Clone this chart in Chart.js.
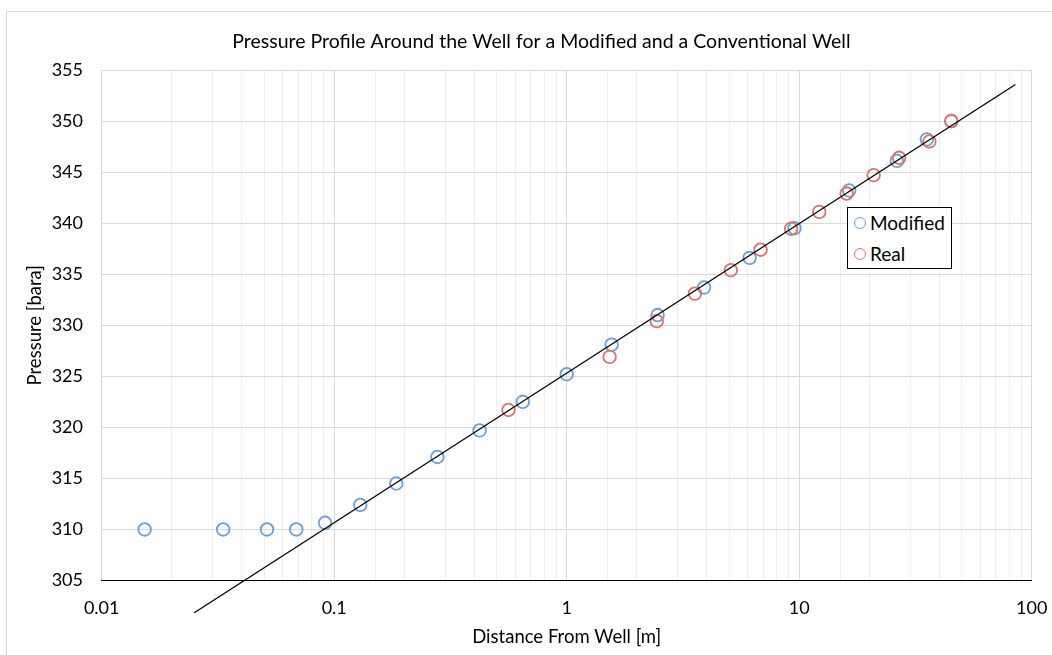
<!DOCTYPE html>
<html>
<head>
<meta charset="utf-8">
<script src="https://cdn.jsdelivr.net/npm/chart.js@4.4.1/dist/chart.umd.min.js"></script>
<style>
  html, body { margin: 0; padding: 0; background: #fff; overflow: hidden; }
  #wrap { position: relative; width: 1052px; height: 655px; }
  #legend {
    position: absolute; left: 847px; top: 207px; width: 103px; height: 60px;
    border: 1.3px solid #000; background: #fff;
    font-family: Lato, sans-serif; font-size: 19px; color: #000;
  }
  #legend .item { position: absolute; left: 6px; display: flex; align-items: center; }
  #legend .dot { width: 10px; height: 10px; border-radius: 50%; border: 1.5px solid; margin-right: 4px; }
</style>
</head>
<body>
<div id="wrap">
  <canvas id="chart" width="1052" height="655"></canvas>
  <div id="legend"></div>
</div>
<script>
// data
const modifiedX = [0.0153, 0.0333, 0.0514, 0.0687, 0.0914, 0.1295, 0.185, 0.278, 0.422, 0.647, 1.0, 1.56, 2.46, 3.9, 6.12, 9.55, 16.4, 26.3, 35.4, 45.1];
const modifiedY = [310, 310, 310, 310, 310.65, 312.4, 314.5, 317.1, 319.7, 322.5, 325.2, 328.1, 331.0, 333.7, 336.6, 339.5, 343.2, 346.1, 348.2, 350.0];

const realX = [0.562, 1.53, 2.44, 3.56, 5.08, 6.82, 9.23, 12.2, 16.0, 20.9, 26.9, 36.3, 45.1];
const realY = [321.7, 326.9, 330.4, 333.1, 335.4, 337.4, 339.45, 341.1, 342.9, 344.7, 346.4, 348.0, 350.0];

// log trendline end points
const trendX = [0.025, 85.1];
const trendY = [301.84, 353.58];

const xTicks = [0.01, 0.1, 1, 10, 100];

const blue = '#6b9fd8';
const red = '#d8736e';

const toPoints = (xs, ys) => xs.map((x, i) => ({x: x, y: ys[i]}));
const isDecade = (v) => Math.abs(Math.log10(v) - Math.round(Math.log10(v))) < 1e-6;

Chart.defaults.font.family = 'Lato, sans-serif';
Chart.defaults.color = '#000';

const outerFrame = {
  id: 'outerFrame',
  beforeDraw(chart) {
    const ctx = chart.ctx;
    ctx.save();
    ctx.strokeStyle = '#d9d9d9';
    ctx.lineWidth = 1;
    ctx.strokeRect(6.5, 11.5, 2000, 2000);
    ctx.restore();
  }
};

new Chart(document.getElementById('chart'), {
  type: 'scatter',
  data: {
    datasets: [
      {
        label: 'Trend',
        type: 'line',
        data: toPoints(trendX, trendY),
        borderColor: '#000',
        borderWidth: 1.3,
        pointRadius: 0,
        clip: false,
        order: 0
      },
      {
        label: 'Real',
        data: toPoints(realX, realY),
        borderColor: red,
        backgroundColor: 'transparent',
        borderWidth: 1.8,
        pointRadius: 6.3,
        pointHoverRadius: 6.3,
        order: 1
      },
      {
        label: 'Modified',
        data: toPoints(modifiedX, modifiedY),
        borderColor: blue,
        backgroundColor: 'transparent',
        borderWidth: 1.8,
        pointRadius: 6.3,
        pointHoverRadius: 6.3,
        order: 2
      }
    ]
  },
  options: {
    responsive: false,
    devicePixelRatio: 1,
    animation: false,
    layout: { padding: { left: 51, right: 20.3, top: 0, bottom: 0 } },
    scales: {
      x: {
        type: 'logarithmic',
        min: 0.01,
        max: 100,
        grid: {
          drawTicks: true,
          tickLength: 13.7,
          tickColor: 'rgba(0,0,0,0)',
          color: (ctx) => ctx.tick && isDecade(ctx.tick.value) ? '#d9d9d9' : '#efefef'
        },
        border: { color: '#000', width: 1 },
        ticks: {
          autoSkip: false,
          maxRotation: 0,
          padding: 3,
          font: { size: 18 },
          callback: (v) => xTicks.some((t) => Math.abs(t - v) / t < 1e-6) ? String(v) : ''
        },
        title: {
          display: true,
          text: 'Distance From Well [m]',
          font: { size: 18.5 },
          padding: { top: 0, bottom: 6.9 }
        },
        afterFit: (scale) => { scale.height = 74.5; }
      },
      y: {
        min: 305,
        max: 355,
        grid: {
          drawTicks: false,
          color: (ctx) => ctx.tick && ctx.tick.value === 305 ? '#000' : '#d9d9d9'
        },
        border: { display: false },
        ticks: {
          stepSize: 5,
          padding: 18.7,
          font: { size: 18 }
        },
        title: {
          display: true,
          text: 'Pressure [bara]',
          font: { size: 18.5 },
          padding: { top: -27.1, bottom: 0 }
        },
        afterFit: (scale) => { scale.width = 50.7; }
      }
    },
    plugins: {
      legend: { display: false },
      tooltip: { enabled: false },
      title: {
        display: true,
        text: 'Pressure Profile Around the Well for a Modified and a Conventional Well',
        font: { size: 19.5, weight: 'normal' },
        color: '#000',
        padding: { top: 30.3, bottom: 16.3 }
      }
    }
  },
  plugins: [outerFrame]
});

// legend box inside the plot
const legendItems = [['Modified', blue], ['Real', red]];
const legend = document.getElementById('legend');
legendItems.forEach(([name, color], i) => {
  const item = document.createElement('div');
  item.className = 'item';
  item.style.top = (3 + i * 31) + 'px';
  item.innerHTML = '<span class="dot" style="border-color:' + color + '"></span><span>' + name + '</span>';
  legend.appendChild(item);
});
</script>
</body>
</html>
